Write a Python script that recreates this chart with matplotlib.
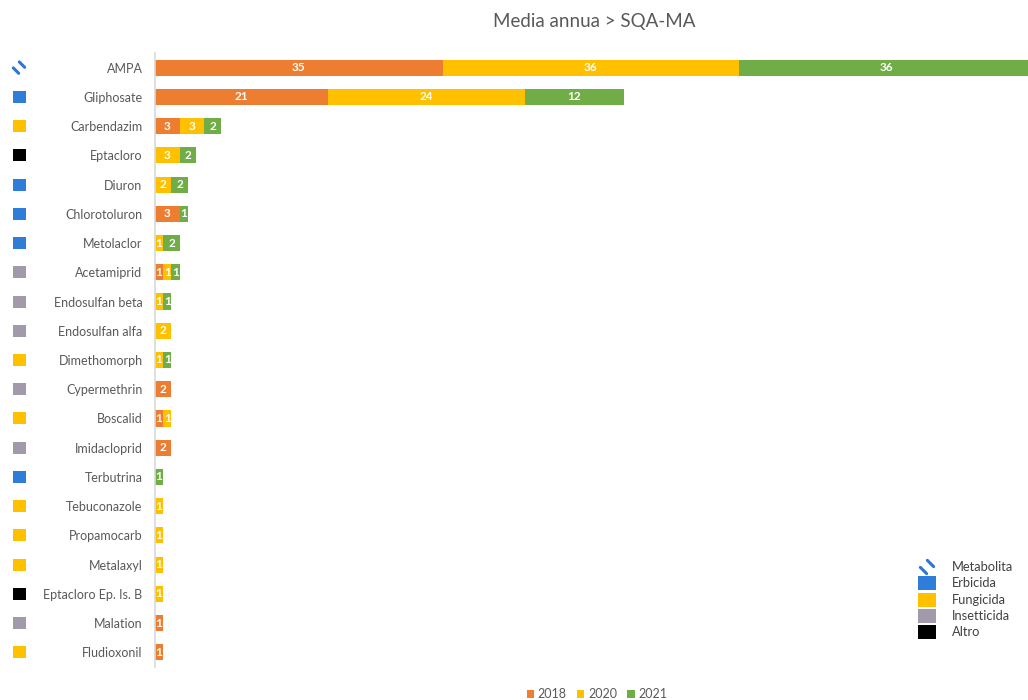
import numpy as np
import matplotlib.pyplot as plt
from matplotlib.patches import Rectangle
from matplotlib.lines import Line2D

plt.rcParams['font.family'] = ['Lato', 'DejaVu Sans']

# data
substances = ["AMPA", "Gliphosate", "Carbendazim", "Eptacloro", "Diuron",
              "Chlorotoluron", "Metolaclor", "Acetamiprid", "Endosulfan beta",
              "Endosulfan alfa", "Dimethomorph", "Cypermethrin", "Boscalid",
              "Imidacloprid", "Terbutrina", "Tebuconazole", "Propamocarb",
              "Metalaxyl", "Eptacloro Ep. Is. B", "Malation", "Fludioxonil"]
v2018 = [35, 21, 3, 0, 0, 3, 0, 1, 0, 0, 0, 2, 1, 2, 0, 0, 0, 0, 0, 1, 1]
v2020 = [36, 24, 3, 3, 2, 0, 1, 1, 1, 2, 1, 0, 1, 0, 0, 1, 1, 1, 1, 0, 0]
v2021 = [36, 12, 2, 2, 2, 1, 2, 1, 1, 0, 1, 0, 0, 0, 1, 0, 0, 0, 0, 0, 0]
types = ["Metabolita", "Erbicida", "Fungicida", "Altro", "Erbicida",
         "Erbicida", "Erbicida", "Insetticida", "Insetticida", "Insetticida",
         "Fungicida", "Insetticida", "Fungicida", "Insetticida", "Erbicida",
         "Fungicida", "Fungicida", "Fungicida", "Altro", "Insetticida",
         "Fungicida"]
years = ["2018", "2020", "2021"]
type_names = ["Metabolita", "Erbicida", "Fungicida", "Insetticida", "Altro"]

year_colors = ["#ED7D31", "#FFC000", "#70AD47"]
type_colors = {"Metabolita": "#2E75D6", "Erbicida": "#2E7DD8",
               "Fungicida": "#FFC000", "Insetticida": "#A29AAA",
               "Altro": "#000000"}
grey = "#595959"
W, H = 1028, 700


def draw_icon(fig, cx, cy, w, h, kind):
    # cx, cy, w, h in pixels (cy measured from bottom)
    if kind == "Metabolita":
        r = min(w, h) / 2
        for k, ln in ((-1, 0.45), (1, 0.45)):
            off = k * r * 0.5
            xs = np.array([cx - r * ln, cx + r * ln]) + off
            ys = np.array([cy + r * ln, cy - r * ln]) + off
            fig.lines.append(Line2D(xs / W, ys / H,
                                    transform=fig.transFigure, lw=2.2,
                                    color=type_colors[kind],
                                    solid_capstyle="round"))
    else:
        fig.patches.append(Rectangle(((cx - w / 2) / W, (cy - h / 2) / H),
                                     w / W, h / H, facecolor=type_colors[kind],
                                     edgecolor="none",
                                     transform=fig.transFigure))


fig = plt.figure(figsize=(10.28, 7), dpi=100)
ax = fig.add_axes([155 / W, 33 / H, 1 - 155 / W, 614 / H])

y = np.arange(len(substances))
left = np.zeros(len(substances))
for vals, lab, col in zip([v2018, v2020, v2021], years, year_colors):
    vals = np.array(vals, dtype=float)
    bars = ax.barh(y, vals, left=left, height=0.55, color=col, label=lab)
    for b, v in zip(bars, vals):
        if v > 0:
            ax.text(b.get_x() + b.get_width() / 2, b.get_y() + b.get_height() / 2,
                    str(int(v)), ha="center", va="center", color="white",
                    fontsize=8.5, fontweight="bold", clip_on=True)
    left += vals

ax.set_xlim(0, 106.2)
ax.set_ylim(len(substances) - 0.5, -0.5)
ax.set_yticks(y)
ax.set_yticklabels(substances, fontsize=9.0, color=grey)
ax.tick_params(axis="y", length=0, pad=9)
ax.set_xticks([])
for s in ["top", "right", "bottom"]:
    ax.spines[s].set_visible(False)
ax.spines["left"].set_color("#D9D9D9")
ax.spines["left"].set_linewidth(1.2)

fig.suptitle("Media annua > SQA-MA", x=594 / W, y=1 - 22 / H,
             va="center", fontsize=13.5, color=grey)

# category icons next to labels
for i, t in enumerate(types):
    py = ax.transData.transform((0, i))[1]
    draw_icon(fig, 19, py, 13, 12, t)

# category legend on the right
for k, name in enumerate(type_names):
    py = H - (567 + k * 16.3)
    draw_icon(fig, 927, py, 18, 14, name)
    fig.text(952 / W, py / H, name, fontsize=9.3, color="#404040", va="center")

# year legend at bottom
fig.legend(loc="center", bbox_to_anchor=(597 / W, 1 - 694 / H), ncol=3,
           frameon=False, fontsize=9, handlelength=0.6, handleheight=0.6,
           handletextpad=0.3, columnspacing=0.8, labelcolor=grey)

fig.savefig("out.png", dpi=100)
